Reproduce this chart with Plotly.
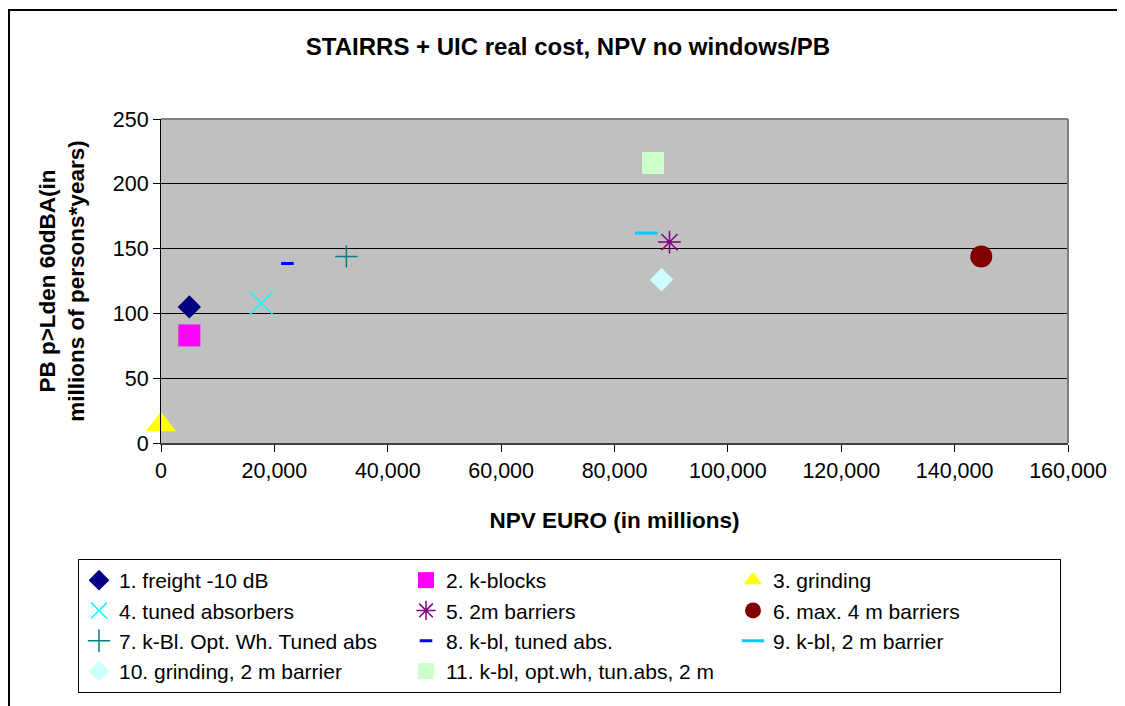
import plotly.graph_objects as go

# ---- data ----
names = ["1. freight -10 dB", "2. k-blocks", "3. grinding",
         "4. tuned absorbers", "5. 2m barriers", "6. max. 4 m barriers",
         "7. k-Bl. Opt. Wh. Tuned abs", "8. k-bl, tuned abs.", "9. k-bl, 2 m barrier",
         "10. grinding, 2 m barrier", "11. k-bl, opt.wh, tun.abs, 2 m"]
npv = [5000, 5000, 0, 17700, 89700, 144700, 32700, 22300, 85600, 88300, 86800]
pb = [105, 83, 14, 108, 155, 144, 144, 138.5, 162, 126, 216]

x_ticks = [0, 20000, 40000, 60000, 80000, 100000, 120000, 140000, 160000]
y_ticks = [0, 50, 100, 150, 200, 250]

# ---- styles ----
symbols = ["diamond", "square", "triangle-up", "x-thin-open", "asterisk-open", "circle",
           "cross-thin-open", "line-ew-open", "line-ew-open", "diamond", "square"]
colors = ["#000080", "#FF00FF", "#FFFF00", "#00FFFF", "#800080", "#800000",
          "#008080", "#0000FF", "#00CCFF", "#CCFFFF", "#CCFFCC"]
sizes = [18, 22, 26, 23, 19, 22, 16, 9, 16, 18, 22]
lwidths = [0, 0, 0, 1.5, 1.5, 0, 1.5, 3, 3, 0, 0]

FONT = "Liberation Sans, Arial, sans-serif"

# page body has an 8px margin: work in reference pixels and shift
OFF = 8
W, H = 1125 - OFF, 706 - OFF
left_px, right_px, top_px, bot_px = 161 - OFF, 1068 - OFF, 119 - OFF, 443 - OFF
L, R, T, B = left_px, W - right_px, top_px, H - bot_px
pw, ph = right_px - left_px, bot_px - top_px


def px_x(p):  # reference pixel -> paper x
    return (p - OFF - left_px) / pw


def px_y(p):  # reference pixel -> paper y
    return (bot_px - (p - OFF)) / ph


fig = go.Figure()
for i in range(len(names)):
    fig.add_trace(go.Scatter(
        x=[npv[i]], y=[pb[i]], mode="markers", name=names[i], cliponaxis=False,
        marker=dict(symbol=symbols[i], size=sizes[i], color=colors[i],
                    line=dict(color=colors[i], width=lwidths[i]))))

shapes = [
    # outer chart frame
    dict(type="rect", xref="paper", yref="paper",
         x0=px_x(9), x1=px_x(1150), y0=px_y(740), y1=px_y(10),
         line=dict(color="black", width=2), fillcolor="rgba(0,0,0,0)", layer="below"),
    # plot-area grey border (top and right)
    dict(type="line", xref="paper", yref="paper", x0=0, x1=1, y0=1, y1=1,
         line=dict(color="#808080", width=2)),
    dict(type="line", xref="paper", yref="paper", x0=1, x1=1, y0=0, y1=1,
         line=dict(color="#808080", width=2)),
]

fig.update_layout(
    width=W, height=H,
    margin=dict(l=L, r=R, t=T, b=B, autoexpand=False),
    paper_bgcolor="white", plot_bgcolor="#C0C0C0",
    font=dict(family=FONT, color="black", size=21),
    title=dict(text="<b>STAIRRS + UIC real cost, NPV no windows/PB</b>",
               x=(568 - OFF) / W, xanchor="center", xref="container",
               y=1 - (47 - OFF) / H, yanchor="middle", yref="container",
               font=dict(size=24, family=FONT, color="black")),
    xaxis=dict(range=[0, 160000], tickvals=x_ticks, tickformat=",d",
               showgrid=False, zeroline=False, showline=True, linecolor="#404040", linewidth=2,
               ticks="outside", ticklen=7, tickcolor="black", tickfont=dict(size=21.5),
               title=dict(text="<b>NPV EURO (in millions)</b>", font=dict(size=22.5), standoff=30)),
    yaxis=dict(range=[0, 250], tickvals=y_ticks,
               showgrid=True, gridcolor="black", gridwidth=1, zeroline=False,
               showline=True, linecolor="black", linewidth=1,
               ticks="outside", ticklen=7, tickcolor="black", tickfont=dict(size=21.5),
               title=dict(text="<b>PB p>Lden 60dBA(in<br>millions of persons*years)</b>",
                          font=dict(size=22.5), standoff=21)),
    legend=dict(orientation="h", xref="paper", yref="paper",
                x=px_x(78), xanchor="left", y=px_y(559), yanchor="top",
                bordercolor="black", borderwidth=1, bgcolor="white",
                entrywidth=282, entrywidthmode="pixels",
                font=dict(size=21, family=FONT), itemsizing="trace"),
    shapes=shapes,
    showlegend=True,
)

fig.write_html("out.html")
